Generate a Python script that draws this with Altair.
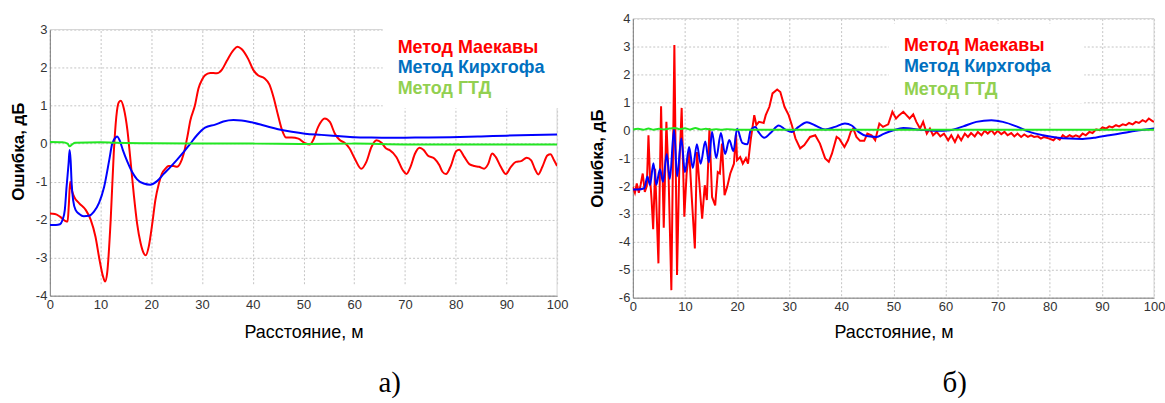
import altair as alt
import pandas as pd

# ---------------- panel а) ----------------
A_MAEKAWA_X = [0, 1, 2, 3, 3.5, 3.75, 4.0, 4.4, 4.8, 5.8, 7.1, 8.05, 9.0, 9.8, 10.5, 10.9, 11.3, 12.0,
               12.6, 13.1, 13.6, 14.0, 14.6, 15.3, 15.9, 16.6, 17.2, 17.9, 18.5, 18.9, 19.5, 20.2, 20.8,
               21.5, 22.1, 22.8, 23.4, 24.4, 25.1, 25.7, 26.4, 27.1, 27.7, 28.6, 29.3, 30.0, 30.6, 31.6,
               32.9, 33.9, 34.9, 36.2, 37.0, 37.8, 39.1, 40.1, 41.1, 42.3, 43.3, 44.1, 45.0, 45.8, 46.6,
               47.7, 49.0, 50.3, 51.3, 51.9, 52.9, 54.2, 55.2, 56.2, 57.1, 58.1, 59.1, 60.1, 61.4, 62.4,
               63.4, 64.4, 65.4, 66.3, 67.0, 68.3, 69.6, 70.3, 71.1, 72.0, 72.9, 73.7, 74.5, 75.8, 76.8,
               77.4, 78.1, 79.1, 80.1, 80.7, 81.7, 82.7, 83.7, 84.6, 85.6, 86.4, 87.2, 87.9, 88.9, 89.9,
               90.9, 91.9, 92.9, 94.0, 94.9, 95.6, 96.3, 97.1, 98.1, 98.7, 99.4, 100]
A_MAEKAWA_Y = [-1.84, -1.85, -1.92, -2.03, -2.05, -1.6, -1.0, -1.25, -1.40, -1.57, -1.75, -2.0, -2.45,
               -3.06, -3.5, -3.63, -3.41, -2.0, -0.26, 0.70, 1.09, 1.13, 0.92, 0.35, -0.44, -1.40, -2.1,
               -2.62, -2.88, -2.94, -2.71, -2.10, -1.49, -1.05, -0.79, -0.66, -0.59, -0.59, -0.61, -0.52,
               -0.26, 0.17, 0.61, 1.0, 1.45, 1.68, 1.80, 1.86, 1.85, 1.94, 2.18, 2.46, 2.55, 2.49, 2.23,
               1.94, 1.79, 1.72, 1.55, 1.22, 0.74, 0.35, 0.16, 0.16, 0.13, 0.01, -0.02, 0.09, 0.44, 0.66,
               0.57, 0.26, 0.10, 0.02, -0.13, -0.39, -0.66, -0.48, -0.09, 0.09, 0.02, -0.13, -0.17, -0.35,
               -0.70, -0.80, -0.61, -0.26, -0.11, -0.17, -0.31, -0.39, -0.57, -0.74, -0.80, -0.57, -0.20,
               -0.16, -0.35, -0.54, -0.59, -0.61, -0.66, -0.54, -0.26, -0.35, -0.61, -0.80, -0.61, -0.48,
               -0.46, -0.37, -0.44, -0.66, -0.81, -0.61, -0.31, -0.28, -0.44, -0.59]

A_KIRCHHOFF_X = [0, 1.2, 2.0, 2.5, 2.95, 3.3, 3.7, 3.9, 4.1, 4.3, 4.6, 5.1, 5.8, 6.7, 7.7, 8.7, 9.7,
                 10.7, 11.7, 12.3, 13.0, 13.3, 13.75, 14.4, 15.3, 16.2, 17.2, 18.5, 19.8, 21.2, 22.5,
                 23.8, 25.1, 26.4, 27.7, 29.0, 30.6, 32.6, 34.2, 36.2, 37.8, 39.8, 42.4, 45.0, 47.7,
                 50.3, 53.5, 56.8, 60.1, 63.4, 67.0, 72.0, 79.0, 85.0, 90.0, 95.0, 100]
A_KIRCHHOFF_Y = [-2.14, -2.14, -2.12, -2.01, -1.75, -1.14, -0.52, -0.17, -0.44, -1.05, -1.49, -1.75,
                 -1.85, -1.91, -1.90, -1.79, -1.56, -1.14, -0.44, 0.0, 0.17, 0.19, 0.09, -0.17, -0.48,
                 -0.74, -0.94, -1.05, -1.08, -0.98, -0.79, -0.61, -0.42, -0.22, 0.0, 0.22, 0.42, 0.50,
                 0.58, 0.62, 0.61, 0.56, 0.47, 0.38, 0.31, 0.26, 0.23, 0.20, 0.17, 0.16, 0.155, 0.16,
                 0.17, 0.19, 0.21, 0.225, 0.24]

A_GTD_X = [0, 2.5, 3.5, 3.9, 4.4, 5.0, 10, 13, 20, 30, 40, 50, 60, 70, 80, 90, 100]
A_GTD_Y = [0.04, 0.035, 0.0, -0.07, -0.02, 0.02, 0.035, 0.02, 0.01, 0.0, 0.0, -0.01, 0.0, -0.02,
           -0.02, -0.02, -0.02]

# ---------------- panel б) ----------------
B_MAEKAWA_X = [0, 0.4, 0.76, 1.15, 1.5, 1.9, 2.3, 2.68, 3.0, 3.3, 3.6, 3.9, 4.28, 4.91, 5.42, 5.93,
               6.44, 6.88, 7.39, 7.97, 8.48, 8.92, 9.37, 9.88, 10.32, 10.8, 11.3, 11.9, 12.3, 12.8,
               13.3, 13.8, 14.2, 14.7, 15.2, 15.8, 16.3, 16.7, 17.1, 17.6, 18.1, 18.7, 19.4, 19.8,
               20.0, 20.6, 21.1, 21.7, 22.1, 22.6, 23.3, 23.7, 24.2, 25.1, 25.5, 26.2, 26.8, 27.7,
               28.3, 29.1, 29.9, 30.5, 31.2, 32.1, 32.9, 34.0, 35.0, 35.9, 36.9, 37.6, 38.2, 39.1,
               39.6, 40.6, 41.3, 41.8, 42.3, 42.9, 43.6, 44.4, 45.0, 45.8, 46.5, 47.3, 48.0, 49.0,
               49.8, 50.5, 51.1, 51.9, 52.5, 53.1, 53.8, 54.4, 55.1, 55.7, 56.4, 57.0, 57.6, 58.3,
               59.0, 59.7, 60.5, 61.1, 61.8, 62.4, 63.0, 63.7, 64.3, 64.9, 65.6, 66.2, 66.9, 67.5,
               68.1, 68.8, 69.4, 70.0, 70.7, 71.3, 71.9, 72.6, 73.2, 73.8, 74.5, 75.1, 75.8, 76.4,
               77.0, 77.7, 78.3, 78.9, 79.9, 80.7, 81.2, 81.9, 82.5, 83.1, 83.8, 84.4, 85.0, 85.7,
               86.3, 86.9, 87.6, 88.2, 88.9, 89.5, 90.1, 90.8, 91.4, 92.0, 92.7, 93.3, 94.0, 94.6,
               95.2, 95.9, 96.5, 97.1, 97.8, 98.4, 99.0, 99.7, 100]
B_MAEKAWA_Y = [-2.03, -2.24, -1.91, -2.24, -1.95, -1.55, -2.21, -2.0, -0.18, -1.7, -2.5, -3.55,
               -1.38, -4.77, 0.86, -3.49, 0.30, -1.79, -5.73, 3.05, -5.19, -1.31, 0.80, -3.1, -1.55,
               -0.72, -2.39, -4.24, -0.78, -1.97, -3.17, -1.97, -2.5, 0.07, -2.39, -2.69, -1.5, -1.55,
               -0.48, -2.33, -2.03, -1.55, -1.2, -0.13, -1.07, -0.96, -1.2, -1.0, -1.2, -0.36, 0.54,
               0.19, 0.30, 0.26, 0.54, 0.84, 1.32, 1.46, 1.37, 0.84, 0.54, 0.19, -0.29, -0.65, -0.53,
               -0.24, -0.18, -0.48, -1.01, -1.13, -0.84, -0.24, -0.30, -0.6, -0.35, -0.06, 0.06, -0.24,
               -0.38, -0.38, -0.12, -0.18, -0.36, 0.24, 0.12, 0.21, 0.66, 0.42, 0.54, 0.66, 0.54, 0.42,
               0.57, 0.30, 0.06, 0.30, -0.12, 0.06, -0.18, -0.06, -0.22, -0.12, -0.36, -0.18, -0.42,
               -0.18, -0.36, -0.12, -0.24, -0.10, -0.22, -0.06, -0.18, -0.02, -0.12, 0.0, -0.14, -0.02,
               -0.14, -0.06, -0.18, -0.10, -0.22, -0.12, -0.24, -0.15, -0.24, -0.18, -0.24, -0.22,
               -0.30, -0.24, -0.30, -0.36, -0.26, -0.34, -0.18, -0.26, -0.18, -0.24, -0.18, -0.24,
               -0.12, -0.18, -0.06, -0.10, 0.03, 0.0, 0.10, 0.06, 0.14, 0.10, 0.18, 0.14, 0.21, 0.18,
               0.26, 0.21, 0.30, 0.26, 0.36, 0.30, 0.42, 0.33, 0.30]

B_KIRCHHOFF_X = [0, 1.0, 2.2, 2.8, 3.3, 3.95, 4.5, 5.2, 5.8, 6.5, 7.1, 7.9, 8.5, 9.3, 10.0, 10.8,
                 11.5, 12.3, 13.0, 13.9, 14.6, 15.2, 16.0, 16.9, 17.7, 18.5, 19.3, 20.0, 21.0, 22.0,
                 22.6, 23.5, 24.1, 25.2, 26.4, 28.0, 29.3, 30.5, 31.8, 33.4, 35.0, 36.9, 38.8, 40.7,
                 42.0, 43.3, 44.9, 46.8, 48.0, 50.0, 51.9, 55.1, 58.3, 60.8, 63.4, 65.9, 68.8, 71.0,
                 73.6, 76.1, 78.7, 81.2, 83.8, 86.3, 88.9, 91.4, 94.0, 96.5, 100]
B_KIRCHHOFF_Y = [-2.12, -2.12, -2.08, -1.66, -1.96, -1.18, -1.95, -1.40, -1.85, -0.85, -1.75, 0.03,
                 -1.65, -0.3, -1.5, -0.6, -1.35, -0.5, -1.2, -0.4, -1.15, -0.05, -1.0, -0.1, -0.85,
                 -0.35, -0.75, 0.05, -0.45, -0.5, 0.0, 0.12, -0.06, -0.27, -0.10, 0.17, 0.02, -0.06,
                 0.12, 0.29, 0.17, 0.03, 0.12, 0.24, 0.17, -0.06, -0.21, -0.24, -0.14, 0.0, 0.08, 0.02,
                 -0.02, 0.0, 0.14, 0.30, 0.36, 0.30, 0.14, -0.06, -0.18, -0.26, -0.30, -0.31, -0.26,
                 -0.18, -0.10, -0.02, 0.06]

B_GTD_X = [0, 1, 2, 3, 4, 5, 6, 7, 8, 9, 10, 11, 12, 13, 14, 15, 16, 17, 18, 20, 30, 50, 100]
B_GTD_Y = [0.03, 0.05, 0.02, 0.06, 0.02, 0.05, 0.03, 0.06, 0.08, 0.04, 0.07, 0.03, 0.08, 0.03, 0.05,
           0.02, 0.04, 0.02, 0.04, 0.02, 0.02, 0.02, 0.02]

SERIES_NAMES = ["Метод Маекавы", "Метод Кирхгофа", "Метод ГТД"]
LINE_COLORS = ["#ff0000", "#0000ff", "#22e622"]
LABEL_COLORS = ["#ff0000", "#0070c0", "#92d050"]
X_TICKS = list(range(0, 101, 10))

SANS = "Liberation Sans"
SERIF = "Liberation Serif"
FRAME = "#d4d4d4"


def one_row():
    return alt.Data(values=[{}])


def pixel_rule(x1, x2, y1, y2, color, width=1):
    return alt.Chart(one_row()).mark_rule(color=color, strokeWidth=width).encode(
        x=alt.value(x1), x2=alt.value(x2), y=alt.value(y1), y2=alt.value(y2)
    )


def pixel_rect(x1, x2, y1, y2, color):
    return alt.Chart(one_row()).mark_rect(color=color).encode(
        x=alt.value(x1), x2=alt.value(x2), y=alt.value(y1), y2=alt.value(y2)
    )


def panel(series, interps, y_domain, y_ticks, width, height, plot_top, left, right_extent,
          box, legend_x, legend_ys, y_title_pos, x_title_y, caption, caption_pos):
    x_enc = alt.X(
        "x:Q",
        scale=alt.Scale(domain=[0, 100], nice=False, zero=False),
        axis=alt.Axis(
            values=X_TICKS, title="Расстояние, м", titleFont=SANS, titleFontSize=18,
            titleFontWeight="normal", titleColor="#000000", titleY=x_title_y,
            titleBaseline="middle", labelFont=SANS, labelFontSize=13, labelColor="#333333",
            labelPadding=3, labelFlush=False, labelOverlap=False, ticks=False,
            grid=True, gridDash=[2, 2], gridColor="#c4c4c4", domainColor="#777777",
        ),
    )
    y_enc = alt.Y(
        "y:Q",
        scale=alt.Scale(domain=y_domain, nice=False, zero=False, range=[height, plot_top]),
        axis=alt.Axis(
            values=y_ticks, title="Ошибка, дБ", titleFont=SANS, titleFontSize=17,
            titleFontWeight="bold", titleColor="#000000", titleAngle=270,
            titleX=y_title_pos[0], titleY=y_title_pos[1], titleAlign="center",
            titleBaseline="middle", labelFont=SANS, labelFontSize=13, labelColor="#333333",
            labelPadding=3, labelFlush=False, labelOverlap=False, ticks=False,
            labelExpr="datum.value < 0 ? '-' + abs(datum.value) : '' + datum.value",
            grid=True, gridDash=[2, 2], gridColor="#c4c4c4", domainColor="#777777",
        ),
    )

    layers = [
        # white rule fixing the outer extent of the panel within the row
        pixel_rule(-left, right_extent, -17.5, -17.5, "white"),
    ]
    if plot_top > 0:
        # blank strip above a plot that starts lower than its view
        layers.append(pixel_rect(-2, width + 2, -1, plot_top - 0.5, "white"))
    # light frame on the top and right edges of the plot
    layers.append(pixel_rule(0, width, plot_top, plot_top, FRAME))
    layers.append(pixel_rule(width, width, plot_top, height, FRAME))
    # white backing of the legend text
    layers.append(pixel_rect(box[0], box[1], box[2], box[3], "white"))

    for (xs, ys), name, color, interp in zip(series, SERIES_NAMES, LINE_COLORS, interps):
        df = pd.DataFrame({"x": xs, "y": ys, "series": name})
        layers.append(
            alt.Chart(df).mark_line(color=color, strokeWidth=2, interpolate=interp, clip=True)
            .encode(x=x_enc, y=y_enc)
        )

    for name, color, ly in zip(SERIES_NAMES, LABEL_COLORS, legend_ys):
        layers.append(
            alt.Chart(one_row()).mark_text(
                text=name, color=color, font=SANS, fontSize=18, fontWeight="bold",
                align="left", baseline="middle",
            ).encode(x=alt.value(legend_x), y=alt.value(ly))
        )

    layers.append(
        alt.Chart(one_row()).mark_text(
            text=caption, font=SERIF, fontSize=29, color="#000000", align="center",
            baseline="alphabetic",
        ).encode(x=alt.value(caption_pos[0]), y=alt.value(caption_pos[1]))
    )

    return alt.layer(*layers).properties(width=width, height=height)


left_panel = panel(
    series=[(A_MAEKAWA_X, A_MAEKAWA_Y), (A_KIRCHHOFF_X, A_KIRCHHOFF_Y), (A_GTD_X, A_GTD_Y)],
    interps=["monotone", "monotone", "monotone"],
    y_domain=[-4, 3], y_ticks=list(range(-4, 4)),
    width=509, height=278, plot_top=11, left=49, right_extent=531,
    box=(334, 513, 7, 90), legend_x=349, legend_ys=(29, 50, 71),
    y_title_pos=(-31, 133), x_title_y=37,
    caption="а)", caption_pos=(341, 375),
)

right_panel = panel(
    series=[(B_MAEKAWA_X, B_MAEKAWA_Y), (B_KIRCHHOFF_X, B_KIRCHHOFF_Y), (B_GTD_X, B_GTD_Y)],
    interps=["linear", "monotone", "monotone"],
    y_domain=[-6, 4], y_ticks=list(range(-6, 5)),
    width=523, height=280, plot_top=0, left=52, right_extent=533,
    box=(257, 453, 5, 85), legend_x=272, legend_ys=(27, 49, 72),
    y_title_pos=(-35, 140), x_title_y=35,
    caption="б)", caption_pos=(323, 375),
)

chart = (
    alt.hconcat(left_panel, right_panel, spacing=0)
    .properties(padding=0, background="white")
    .configure_view(stroke=None)
)

chart.save("out.html", embed_options={"renderer": "svg", "actions": False})
